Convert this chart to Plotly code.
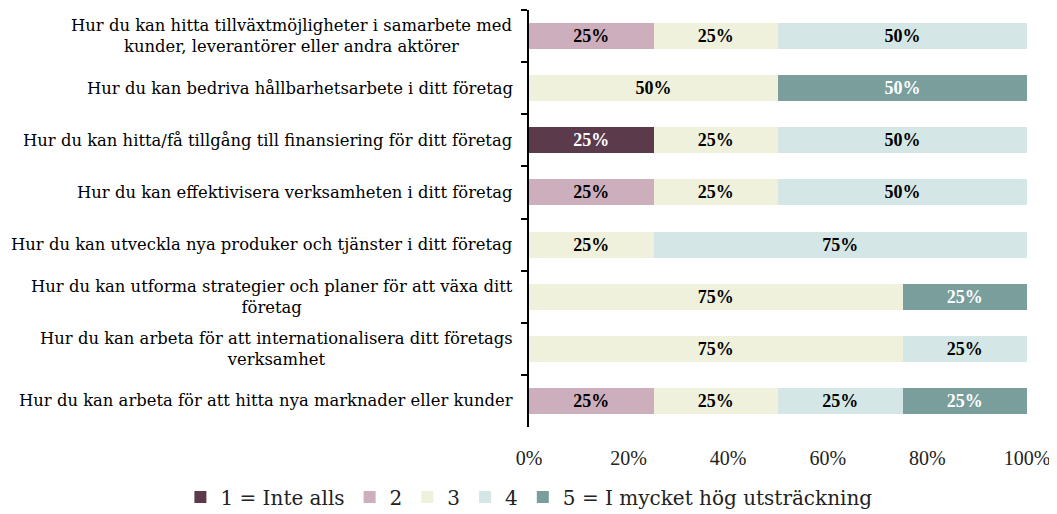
import plotly.graph_objects as go

categories = [
    "Hur du kan hitta tillväxtmöjligheter i samarbete med<br>kunder, leverantörer eller andra aktörer",
    "Hur du kan bedriva hållbarhetsarbete i ditt företag",
    "Hur du kan hitta/få tillgång till finansiering för ditt företag",
    "Hur du kan effektivisera verksamheten i ditt företag",
    "Hur du kan utveckla nya produker och tjänster i ditt företag",
    "Hur du kan utforma strategier och planer för att växa ditt<br>företag",
    "Hur du kan arbeta för att internationalisera ditt företags<br>verksamhet",
    "Hur du kan arbeta för att hitta nya marknader eller kunder",
]
series_names = ["1 = Inte alls", "2", "3", "4", "5 = I mycket hög utsträckning"]
s1 = [0, 0, 25, 0, 0, 0, 0, 0]
s2 = [25, 0, 0, 25, 0, 0, 0, 25]
s3 = [25, 50, 25, 25, 25, 75, 75, 25]
s4 = [50, 0, 50, 50, 75, 0, 25, 25]
s5 = [0, 50, 0, 0, 0, 25, 0, 25]
series_values = [s1, s2, s3, s4, s5]
colors = ["#5a3a4b", "#ccaebd", "#eff1dc", "#d4e7e6", "#799e9b"]
text_colors = ["white", "black", "black", "black", "white"]
x_tickvals = [0, 20, 40, 60, 80, 100]
x_ticktext = ["0%", "20%", "40%", "60%", "80%", "100%"]

FONT = "DejaVu Serif"
FONT2 = "Liberation Serif"
ids = [f"c{i}" for i in range(len(categories))]

fig = go.Figure()
for name, vals, col, tc in zip(series_names, series_values, colors, text_colors):
    fig.add_trace(go.Bar(
        y=ids, x=vals, name=name, orientation="h",
        marker=dict(color=col, line=dict(width=0)),
        text=[f"{v}%" if v else "" for v in vals],
        textposition="inside", insidetextanchor="middle",
        constraintext="none",
        textfont=dict(family=FONT2, size=18, color=tc, weight="bold"),
        cliponaxis=False, hoverinfo="skip",
    ))

for cid, lab in zip(ids, categories):
    fig.add_annotation(
        x=0, xref="paper", y=cid, yref="y", text=lab, showarrow=False,
        xanchor="right", xshift=-14, align="center",
        font=dict(family=FONT, size=16.4, color="black"),
    )

fig.update_layout(
    barmode="stack", bargap=0.5,
    width=1049, height=506,
    margin=dict(l=521, r=30, t=2, b=87, autoexpand=False),
    plot_bgcolor="white", paper_bgcolor="white",
    font=dict(family=FONT2, color="black"),
    showlegend=True,
    legend=dict(orientation="h", traceorder="normal",
                xref="paper", x=-0.70, xanchor="left",
                yref="paper", y=-0.168, yanchor="middle",
                font=dict(family=FONT, size=20, color="#222"),
                itemwidth=30),
)
fig.update_yaxes(
    type="category", categoryorder="array", categoryarray=ids,
    autorange="reversed", showticklabels=False, automargin=False,
    showline=True, linecolor="black", linewidth=2,
    ticks="outside", ticklen=6, tickcolor="black", tickwidth=1.5,
    tickson="boundaries", showgrid=False,
)
fig.update_xaxes(
    range=[0, 100], tickmode="array", tickvals=x_tickvals, ticktext=x_ticktext,
    showgrid=False, zeroline=False, showline=False, automargin=False,
    ticks="outside", ticklen=13, tickcolor="rgba(0,0,0,0)",
    tickfont=dict(family=FONT2, size=20, color="#222"),
)

fig.write_html("out.html")
